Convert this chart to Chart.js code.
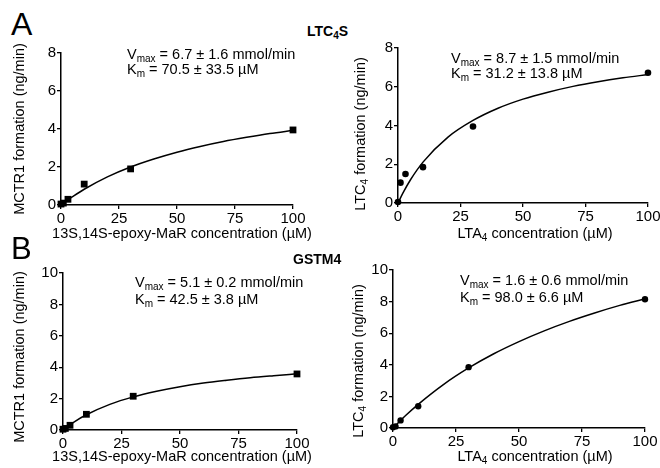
<!DOCTYPE html>
<html>
<head>
<meta charset="utf-8">
<script src="https://cdn.jsdelivr.net/npm/chart.js@4.4.1/dist/chart.umd.min.js"></script>
<style>
  html, body { margin: 0; padding: 0; background: #fff; }
  body { width: 660px; height: 468px; position: relative; overflow: hidden;
         font-family: 'Liberation Sans', Arial, sans-serif; color: #000; }
  .panel { position: absolute; }
  .panel canvas { display: block; }
  .txt { position: absolute; white-space: nowrap; line-height: 1; }
  .letter { font-size: 32px; }
  .enz { font-size: 14px; font-weight: bold; }
  .note { font-size: 14.5px; }
  .ytitle { font-size: 14.5px; transform: translate(-50%, -50%) rotate(-90deg); }
  .xtitle { font-size: 14.5px; transform: translate(-50%, -50%); }
  .s { font-size: 10px; vertical-align: -3px; line-height: 0; }
</style>
</head>
<body>

<div class="panel" style="left:19px;top:43px"><canvas id="a1" width="290" height="186"></canvas></div>
<div class="panel" style="left:356px;top:38px"><canvas id="a2" width="308" height="189"></canvas></div>
<div class="panel" style="left:21px;top:263px"><canvas id="b1" width="292" height="191"></canvas></div>
<div class="panel" style="left:351px;top:260px"><canvas id="b2" width="310" height="192"></canvas></div>

<div class="txt letter" style="left:11px;top:8px">A</div>
<div class="txt letter" style="left:11px;top:233px;font-size:31px">B</div>
<div class="txt enz" style="left:307px;top:24px">LTC<span class="s">4</span>S</div>
<div class="txt enz" style="left:293px;top:252px">GSTM4</div>

<div class="txt note" style="left:127px;top:46.5px;line-height:15px">V<span class="s">max</span> = 6.7 ± 1.6 mmol/min<br>K<span class="s">m</span> = 70.5 ± 33.5 µM</div>
<div class="txt note" style="left:451px;top:51px;line-height:15px">V<span class="s">max</span> = 8.7 ± 1.5 mmol/min<br>K<span class="s">m</span> = 31.2 ± 13.8 µM</div>
<div class="txt note" style="left:135px;top:273.5px;line-height:17px">V<span class="s">max</span> = 5.1 ± 0.2 mmol/min<br>K<span class="s">m</span> = 42.5 ± 3.8 µM</div>
<div class="txt note" style="left:460px;top:272px;line-height:17px">V<span class="s">max</span> = 1.6 ± 0.6 mmol/min<br>K<span class="s">m</span> = 98.0 ± 6.6 µM</div>

<div class="txt ytitle" style="left:19px;top:129px">MCTR1 formation (ng/min)</div>
<div class="txt ytitle" style="left:359.5px;top:134px">LTC<span class="s">4</span> formation (ng/min)</div>
<div class="txt ytitle" style="left:19px;top:357px">MCTR1 formation (ng/min)</div>
<div class="txt ytitle" style="left:358px;top:360.5px">LTC<span class="s">4</span> formation (ng/min)</div>

<div class="txt xtitle" style="left:182px;top:232.5px">13S,14S-epoxy-MaR concentration (µM)</div>
<div class="txt xtitle" style="left:535px;top:232.5px">LTA<span class="s">4</span> concentration (µM)</div>
<div class="txt xtitle" style="left:182px;top:456px">13S,14S-epoxy-MaR concentration (µM)</div>
<div class="txt xtitle" style="left:535px;top:456px">LTA<span class="s">4</span> concentration (µM)</div>

<script>
// substrate concentrations (µM)
const epoxyConc = [0, 1, 3, 10, 30, 100];
const lta4Conc = [0, 1, 3, 10, 30, 100];
const fitConc = [0, 2, 5, 10, 20, 30, 40, 50, 60, 70, 80, 90, 100];

// A: LTC4S
const ltc4sMctr1 = [0.05, 0.1, 0.3, 1.1, 1.9, 3.95];
const ltc4sMctr1Fit = [0, 0.19, 0.44, 0.83, 1.48, 2.0, 2.42, 2.78, 3.08, 3.34, 3.56, 3.76, 3.93];
const ltc4sLtc4 = [0.05, 1.05, 1.5, 1.85, 3.95, 6.72];
const ltc4sLtc4Fit = [0, 0.52, 1.2, 2.11, 3.4, 4.26, 4.89, 5.36, 5.72, 6.02, 6.26, 6.46, 6.63];

// B: GSTM4
const gstm4Mctr1 = [0.05, 0.1, 0.3, 1.0, 2.15, 3.57];
const gstm4Mctr1Fit = [0, 0.23, 0.54, 0.97, 1.63, 2.11, 2.47, 2.76, 2.99, 3.17, 3.33, 3.46, 3.58];
const gstm4Ltc4 = [0.05, 0.1, 0.48, 1.38, 3.85, 8.15];
const gstm4Ltc4Fit = [0, 0.32, 0.79, 1.5, 2.75, 3.8, 4.7, 5.47, 6.15, 6.75, 7.28, 7.76, 8.18];

// tick labels
const concTicks = [0, 25, 50, 75, 100];
const ticksA = [0, 2, 4, 6, 8];
const ticksB = [0, 2, 4, 6, 8, 10];

const Y_W = 42, X_H = 24, PAD_T = 10, PAD_R = 16;
const font = { family: "'Liberation Sans', Arial, sans-serif", size: 15 };

function xy(xs, ys) {
    return xs.map((x, i) => ({ x: x, y: ys[i] }));
}

function axis(ticks, isX) {
    return {
        type: 'linear',
        min: ticks[0],
        max: ticks[ticks.length - 1],
        afterBuildTicks: s => { s.ticks = ticks.map(v => ({ value: v })); },
        afterFit: s => {
            if (isX) { s.height = X_H; s.paddingLeft = 0; s.paddingRight = 0; }
            else { s.width = Y_W; s.paddingTop = 0; s.paddingBottom = 0; }
        },
        ticks: { font: font, color: '#000', padding: isX ? 1 : 1, maxRotation: 0, autoSkip: false },
        grid: { display: true, drawOnChartArea: false, drawTicks: true, tickLength: 4, color: '#000', lineWidth: 1.3 },
        border: { display: true, color: '#000', width: 1.5 },
    };
}

function createPanel(id, xs, ys, fit, yTicks, style, radius) {
    const ctx = document.getElementById(id);
    new Chart(ctx, {
        type: 'scatter',
        data: {
            datasets: [
                {
                    data: xy(xs, ys),
                    pointStyle: style,
                    pointRadius: radius,
                    pointBackgroundColor: '#000',
                    pointBorderColor: '#000',
                    pointBorderWidth: 0,
                    clip: false,
                },
                {
                    data: xy(fitConc, fit),
                    showLine: true,
                    pointRadius: 0,
                    borderColor: '#000',
                    borderWidth: 1.5,
                    cubicInterpolationMode: 'monotone',
                    fill: false,
                    clip: false,
                },
            ],
        },
        options: {
            responsive: false,
            animation: false,
            devicePixelRatio: 1,
            layout: { padding: { top: PAD_T, right: PAD_R, left: 0, bottom: 0 } },
            plugins: { legend: { display: false }, tooltip: { enabled: false } },
            scales: { x: axis(concTicks, true), y: axis(yTicks, false) },
        },
    });
}

createPanel('a1', epoxyConc, ltc4sMctr1, ltc4sMctr1Fit, ticksA, 'rect', 4.8);
createPanel('a2', lta4Conc, ltc4sLtc4, ltc4sLtc4Fit, ticksA, 'circle', 3.3);
createPanel('b1', epoxyConc, gstm4Mctr1, gstm4Mctr1Fit, ticksB, 'rect', 4.8);
createPanel('b2', lta4Conc, gstm4Ltc4, gstm4Ltc4Fit, ticksB, 'circle', 3.2);
</script>
</body>
</html>
